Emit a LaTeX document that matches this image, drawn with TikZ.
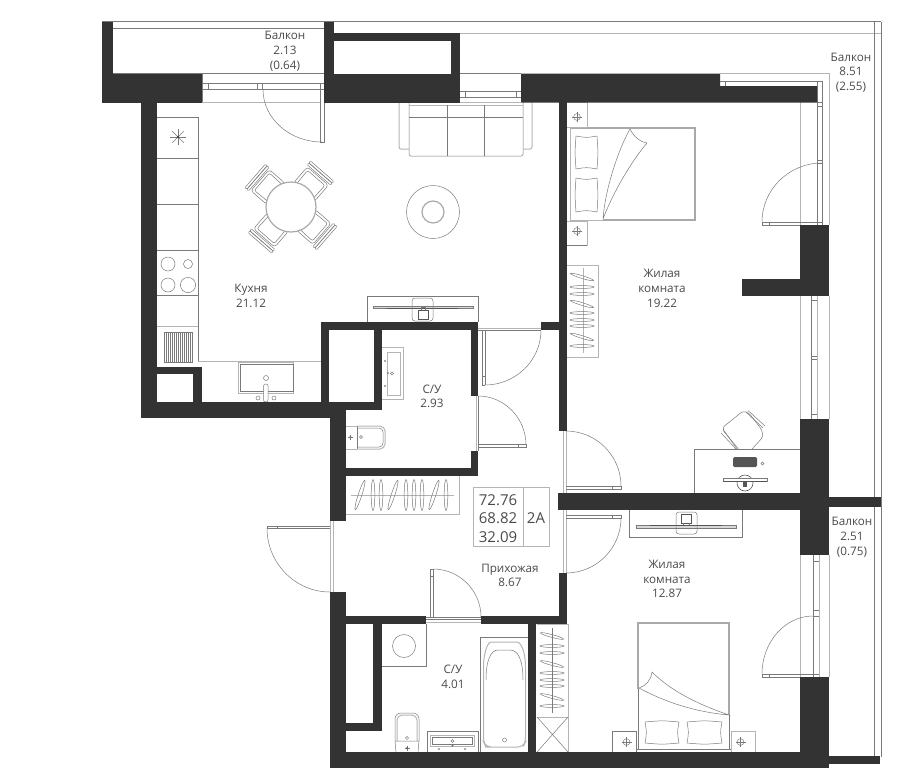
\documentclass[tikz,border=0pt]{standalone}
\usepackage{fontspec}
\setmainfont{Open Sans}
\usetikzlibrary{calc}
\definecolor{wallc}{HTML}{333333}
\definecolor{linec}{HTML}{7A7A7A}
\definecolor{lightc}{HTML}{B4B4B4}
\definecolor{textc}{HTML}{4A4A4A}
\definecolor{darkl}{HTML}{555555}
\tikzset{
  wall/.style={fill=wallc,draw=none},
  ln/.style={draw=linec,line width=0.5pt},
  lt/.style={draw=lightc,line width=1pt},
  hv/.style={draw=linec!65!white,line width=1.2pt},
  lbl/.style={font=\fontsize{11.7}{14}\selectfont,text=textc,inner sep=0pt,text height=8.4pt,text depth=0pt},
  big/.style={font=\fontsize{15}{18}\selectfont,text=textc,inner sep=0pt,text height=10.8pt,text depth=0pt},
}
\newcommand\qarc[3]{\draw[ln] #1 .. controls ($#1!.55!#3$) and ($#2!.55!#3$) .. #2;}
\newcommand\hanger[3]{\draw[ln,rotate around={#3:(#1,#2)}] (#1,#2) ellipse [x radius=12,y radius=1.4];}
\newcommand\hangerb[3]{\draw[ln,rotate around={#3:(#1,#2)}] (#1,#2) ellipse [x radius=15.5,y radius=1.8];}
\newcommand\lamp[2]{\draw[ln] (#1,#2) circle [radius=3.4]; \draw[ln] ({#1-5},#2) -- ({#1+5},#2) ({#1},{#2-5}) -- ({#1},{#2+5});}
\newcommand\pillow[4]{\draw[ln] (#1,#2) .. controls ({(#1+#3)/2},{#2+1.8}) .. (#3,#2) .. controls ({#3+1.2},{(#2+#4)/2}) .. (#3,#4) .. controls ({(#1+#3)/2},{#4-1.8}) .. (#1,#4) .. controls ({#1-1.2},{(#2+#4)/2}) .. cycle;}
\newcommand\pillowb[4]{\draw[ln] (#1,#2) .. controls ({(#1+#3)/2},{#2-1.5}) .. (#3,#2) .. controls ({#3-1.8},{(#2+#4)/2}) .. (#3,#4) .. controls ({(#1+#3)/2},{#4+1.5}) .. (#1,#4) .. controls ({#1+1.8},{(#2+#4)/2}) .. cycle;}
\newcommand\chairat[1]{\begin{scope}[shift={(291,207)},rotate=#1]
  \draw[ln,rounded corners=3] (20,-14) -- (41,-14) -- (41,14) -- (20,14) -- cycle;
  \draw[ln,rounded corners=2] (20,-11) -- (38.5,-11.5) -- (38.5,11.5) -- (20,11);
  \draw[ln,rounded corners=1] (42.5,-15.5) rectangle (45,15.5);
  \draw[ln,rounded corners=1] (45,-15.5) rectangle (47.5,15.5);
\end{scope}}
\begin{document}
\begin{tikzpicture}[x=1pt,y=-1pt]
\useasboundingbox (0,0) rectangle (900,769);
% ---- balcony outlines
\draw[ln] (102,21.7) -- (881,21.7);
\draw[ln] (113,28) -- (324,28);
\draw[ln] (113,73.3) -- (324,73.3);
\draw[lt] (460,33) -- (881,33);
\draw[ln] (874,22) -- (874,757) (881,22) -- (881,757);
% ---- top windows and balcony door
\draw[ln] (202,73) -- (202,102) (202,83) -- (324,83) (202,89.5) -- (324,89.5);
\draw[lt] (202,102) -- (320,102);
\draw[ln] (208,83) -- (208,89.5) (257,83) -- (257,89.5) (262,83) -- (262,89.5) (320,83) -- (320,142) (324,83) -- (324,142) -- (320,142);
\qarc{(263,89.5)}{(322,142)}{(263,142)}
\draw[ln] (460,73) -- (521,73) (460,91) -- (521,91) (460,97) -- (521,97);
\draw[ln] (465,91) -- (465,97) (516,91) -- (516,97);
\draw[lt] (460,102) -- (521,102);
% ---- right windows, bedroom 1
\draw[lt] (720,73) -- (829,73) -- (829,225);
\draw[ln] (720,81) -- (822,81) -- (822,225) (817,81) -- (817,225);
\draw[ln] (725,81) -- (725,86);
\draw[lt] (800,102) -- (800,225);
\draw[ln] (817,102) -- (822,102) (817,106) -- (822,106) (817,160) -- (822,160) (817,163) -- (822,163);
\draw[ln] (762,222) -- (822,222) (762,225) -- (822,225) (762,222) -- (762,225) (769,222) -- (769,225);
\qarc{(822,163)}{(762,222)}{(762,163)}
\draw[lt] (800,296) -- (800,419) (829,296) -- (829,419);
\draw[lt] (817,296) -- (817,419);
\draw[ln] (811,296) -- (811,419);
\draw[ln] (811,300) -- (817,300) (811,356) -- (817,356) (811,359) -- (817,359) (811,414.5) -- (817,414.5);
% ---- right window, bedroom 2
\draw[lt] (800,555) -- (800,677) (829,555) -- (829,677) (819,555) -- (819,677);
\draw[ln] (813,555) -- (813,677);
\draw[ln] (813,561) -- (819,561) (813,610) -- (819,610) (813,616) -- (819,616);
\draw[ln] (762,674) -- (819,674) (762,677) -- (819,677) (762,674) -- (762,677) (769,674) -- (769,677);
\qarc{(813,616)}{(762,674)}{(762,616)}
% ---- kitchen counter
\draw[ln] (157,117) -- (198,117) -- (198,361);
\draw[ln] (157,158) -- (198,158) (157,204) -- (198,204) (157,250) -- (198,250) (157,295) -- (198,295);
\draw[lt] (157,326) -- (198,326) (198,361) -- (321,361);
\foreach \a in {0,45,90,135} {\draw[ln] ({178-8*cos(\a)},{137-8*sin(\a)}) -- ({178+8*cos(\a)},{137+8*sin(\a)});}
\fill[wallc] (178,137) circle [radius=1.2];
\draw[ln] (168,264) circle [radius=7] (188,264) circle [radius=4.5] (168,285) circle [radius=7] (188,285) circle [radius=7.6];
\foreach \x in {164.5,166.5,...,192.5} {\draw[ln] (\x,332) -- (\x,362);}
\foreach \x in {174,176,...,182} {\draw[draw=linec,line width=1pt] (\x,332) -- (\x,362);}
\draw[ln] (164,332) -- (193,332) (164,362) -- (193,362);
% kitchen sink
\draw[lt] (238,362.5) rectangle (293,393);
\draw[ln] (240,364.5) rectangle (293,391);
\draw[ln] (266,378) circle [radius=2.5];
\draw[ln,fill=white,rounded corners=2] (263.5,384) rectangle (268,402);
\draw[ln] (258,398) circle [radius=2] (274,398) circle [radius=2];
% ---- dining table
\chairat{49}\chairat{139}\chairat{229}\chairat{319}
\draw[hv,fill=white] (291,207) circle [radius=25];
% ---- sofa & rug
\draw[lt] (409,105) -- (523,105);
\draw[ln,rounded corners=1.5] (409,102) -- (409,156) -- (523,156) -- (523,102);
\draw[ln] (409,117) -- (523,117);
\draw[ln,rounded corners=1.5] (447,105) -- (447,156) (484,105) -- (484,156);
\draw[lt,rounded corners=2] (399,102) -- (399,149) -- (409,149);
\draw[lt,rounded corners=2] (532,102) -- (532,149) -- (523,149);
\draw[ln] (433,212) circle [radius=26.5];
\draw[hv] (433,212) circle [radius=11];
% ---- TV console kitchen
\draw[ln] (367,322) -- (367,296) -- (478,296) -- (478,322);
\draw[ln,fill=lightc!50!white] (373,306) rectangle (473,308);
\draw[draw=darkl,line width=0.7pt] (387,308.5) -- (458,308.5);
\draw[ln,rounded corners=3] (412,298) rectangle (433,321);
\draw[draw=darkl,line width=0.5pt,fill=white] (418,310) rectangle (428,319);
\draw[ln] (421,310) -- (421,307) -- (425,307) -- (425,310);
% ---- bedroom 1 bed
\draw[hv] (570,128) -- (695,128) -- (695,220) -- (603,220);
\draw[lt] (603,220) -- (570,220);
\draw[lt,line width=.7pt] (570,128) -- (570,220);
\draw[lt] (567,102) -- (587,102) -- (587,127) -- (567,127);
\draw[lt] (567,221) -- (587,221) -- (587,245) -- (567,245);
\draw[ln] (567,245) -- (587,245);
\lamp{577}{117}\lamp{577}{231}
\pillow{576}{136}{597}{169}
\pillow{576}{178}{597}{212}
\draw[ln] (603,219) .. controls (605,190) and (618,150) .. (630,129) .. controls (634,137) and (640,142) .. (647,143) .. controls (630,163) and (612,195) .. (603,219);
% ---- bedroom 1 wardrobe
\draw[lt] (567,265) -- (598,265) -- (598,357) -- (567,357);
\draw[lt] (583,268) -- (583,353);
\hanger{582}{277}{-17}\hanger{582}{287}{0}\hanger{582}{294}{0}\hanger{582}{304}{-17}\hanger{582}{313}{0}\hanger{582}{320}{0}\hanger{582}{326}{0}\hanger{582}{337}{-17}\hanger{582}{346}{0}
% ---- desk bedroom 1
\draw[ln] (694,493) -- (694,449) -- (800,449);
\draw[ln,rounded corners=3] (737,449) -- (725,432) -- (722,428) -- (743,411) -- (749,413) -- (762,430) -- (763,437) -- (752,449);
\draw[ln] (721,433) -- (736,449) (723.5,431) -- (738.5,449);
\draw[ln] (746,412) -- (763,428) (748,410.5) -- (765,426);
\fill[darkl,rounded corners=1.5] (733,457) rectangle (757,467);
\draw[ln] (762.5,463.5) circle [radius=1.5];
\draw[draw=darkl,line width=0.6pt] (745,483) circle [radius=8];
\draw[ln,fill=white] (723,478) rectangle (767,481);
\draw[draw=darkl,line width=0.6pt] (723,481) -- (767,481);
\fill[darkl] (743,481) rectangle (747,487);
% ---- desk bedroom 2
\draw[ln] (629,510) -- (629,537) -- (742,537) -- (742,510);
\draw[ln,fill=lightc!50!white] (636,525.5) rectangle (736,528);
\draw[draw=darkl,line width=0.7pt] (650,525) -- (722,525);
\draw[ln,rounded corners=3] (676,512) rectangle (697,534);
\draw[draw=darkl,line width=0.5pt] (681,514) rectangle (691,523);
\draw[ln] (683,523) -- (683,525) (689,523) -- (689,525);
% ---- bedroom 2 bed
\draw[hv] (638,689) -- (638,623) -- (729,623) -- (729,715);
\draw[ln] (638,689) -- (638,749) (729,715) -- (729,749) (636,749) -- (731,749);
\draw[ln] (612,752) -- (612,731) -- (636,731) -- (636,752);
\draw[lt] (731,752) -- (731,731) -- (755,731) -- (755,752);
\lamp{626.5}{742}\lamp{740.5}{742}
\pillowb{645}{722}{679}{743}
\pillowb{687}{722}{722}{743}
\draw[ln] (639,688) .. controls (646,686) and (651,680) .. (652,672) .. controls (672,692) and (700,705) .. (729,715) .. controls (695,712) and (665,702) .. (639,688);
% ---- bedroom 2 closet
\draw[lt] (537,624) -- (568,624) -- (568,752) (537,717) -- (568,717);
\draw[ln] (552,628) -- (552,713);
\draw[ln] (537,717) -- (568,752) (568,717) -- (537,752);
\hanger{552}{636}{-15}\hanger{552}{646}{0}\hanger{552}{653}{0}\hanger{552}{664}{-15}\hanger{552}{673}{0}\hanger{552}{680}{0}\hanger{552}{686}{0}\hanger{552}{697}{-15}\hanger{552}{706}{0}
% ---- bathroom 1
\draw[lt] (382,347) -- (403,347) -- (403,399) -- (382,399);
\draw[lt] (387,352) rectangle (400,395);
\fill[darkl] (385,361) circle [radius=.9] (385,386) circle [radius=.9] (388,373) circle [radius=.9];
\draw[ln] (392,373.5) circle [radius=1.6];
\draw[lt] (346,426) -- (357,426) (346,449) -- (357,449);
\draw[ln] (357,426) -- (357,449);
\draw[lt,rounded corners=5] (357,426) -- (385,426) -- (385,449) -- (357,449);
\draw[ln,rounded corners=4] (358,428) -- (383,428) -- (383,447) -- (358,447);
\fill[darkl] (350.5,437) circle [radius=1.1];
\draw[ln] (348,437) -- (353,437) (350.5,434.5) -- (350.5,439.5);
\draw[ln] (361,437) circle [radius=1.5];
% ---- hall wardrobe
\draw[lt] (346,514) -- (459,514) -- (459,476);
\draw[lt] (351,495) -- (454,495);
\hangerb{360}{495}{72}\hangerb{373}{495}{90}\hangerb{381}{495}{90}\hangerb{393}{495}{72}\hangerb{406}{495}{90}\hangerb{414}{495}{90}\hangerb{422}{495}{90}\hangerb{434}{495}{72}\hangerb{446}{495}{90}
% ---- info table
\draw[lt] (473,487) rectangle (549,546);
\draw[lt] (523,487) -- (523,546);
% ---- doors
\draw[lt] (476.5,396) -- (476.5,451);
\draw[ln] (478,396) -- (478,451);
\draw[ln] (478,444) rectangle (526,447);
\draw[ln] (518,444) -- (518,447);
\qarc{(478,396)}{(526,445)}{(526,396)}
\draw[lt] (478,328) -- (541,328);
\draw[ln] (478,330) -- (541,330);
\draw[ln] (482,330) -- (482,385) (485,330) -- (485,385) (482,385) -- (485,385);
\draw[ln] (482,376) -- (485,376);
\qarc{(541,330)}{(485,385)}{(541,385)}
\draw[lt] (563,431) -- (563,493) (566.5,431) -- (566.5,493);
\draw[ln] (566,486) -- (621,486) -- (621,489) -- (566,489);
\draw[ln] (612,486) -- (612,489);
\qarc{(566,431)}{(621,486)}{(621,431)}
\draw[lt] (563,510) -- (563,573) (566.5,510) -- (566.5,573);
\draw[ln] (566,515) -- (621,515) -- (621,518) -- (566,518);
\draw[ln] (612,515) -- (612,518);
\qarc{(621,518)}{(566,573)}{(621,573)}
\draw[lt] (330.5,521) -- (330.5,592) (333,521) -- (333,592);
\draw[ln] (330,526) -- (267,526) -- (267,528.5) -- (330,528.5);
\draw[ln] (277,526) -- (277,528.5);
\qarc{(267,528)}{(330,592)}{(267,592)}
\draw[ln] (426,617) -- (481,617) (426,619) -- (481,619);
\draw[lt] (426,622) -- (481,622);
\draw[ln] (430,569) -- (433,569) -- (433,617) (430,569) -- (430,617) (430,576) -- (433,576);
\qarc{(433,569)}{(481,617)}{(481,569)}
% ---- bathroom 2
\draw[ln] (382,666) -- (426,666) -- (426,624);
\draw[ln] (404,646) circle [radius=11.5];
\draw[ln,rounded corners=6] (395,741) -- (395,713) -- (419,713) -- (419,741);
\draw[lt,rounded corners=5] (397,741) -- (397,715) -- (417,715) -- (417,741);
\draw[ln] (395,741) -- (419,741) (395,741) -- (396,752) (419,741) -- (418,752);
\draw[ln] (407,738) circle [radius=1.6];
\draw[ln] (404.5,748) -- (409.5,748) (407,745.5) -- (407,750.5);
\fill[darkl] (407,748) circle [radius=1];
\draw[ln] (427,752) -- (427,731) -- (478,731) -- (478,752);
\draw[lt] (430,735) rectangle (474,746);
\draw[ln] (432,737) rectangle (472,744);
\draw[ln] (452.5,741) circle [radius=1.5];
\fill[darkl] (452.5,745.5) circle [radius=1] (439,749) circle [radius=.9] (465,749) circle [radius=.9];
\draw[ln] (480,752) -- (480,637) -- (528,637);
\draw[lt,rounded corners=5] (490,747) -- (486,747) -- (483.5,742) -- (483.5,672) .. controls (483.5,652) and (488,642) .. (496,642) -- (512,642) .. controls (521,642) and (525.5,652) .. (525.5,672) -- (525.5,742) -- (523,747) -- cycle;
\draw[ln] (486,680) .. controls (486,660) and (491,650) .. (498,650) -- (510,650) .. controls (518,650) and (523,660) .. (523,680);
\draw[ln] (504.5,740) circle [radius=2];
% ---- walls
\fill[wall] (102,22) rectangle (113,74);
\fill[wall] (102,73.5) rectangle (202,102.5);
\fill[wall] (324,22) rectangle (334,74);
\fill[wall] (334,33) rectangle (460,41);
\fill[wall] (451,33) rectangle (460,74);
\fill[wall] (324,74) rectangle (460,102.5);
\fill[wall] (521,73.5) -- (720,73.5) -- (720,86) -- (817,86) -- (817,102.5) -- (521,102.5) -- cycle;
\fill[wall] (800,225) rectangle (829,296);
\fill[wall] (742,279) rectangle (829,296);
\fill[wall] (800,419) rectangle (829,555);
\fill[wall] (558,493) rectangle (800,510);
\fill[wall] (800,497) rectangle (881,507);
\fill[wall] (800,677) rectangle (829,768);
\fill[wall] (330,752) rectangle (829,768);
\fill[wall] (829,756) rectangle (880,764);
% left + kitchen
\fill[wall] (141,102) rectangle (157,418);
\fill[wall] (141,402) rectangle (346,418);
\fill[wall] (157,367) rectangle (202,374);
\fill[wall] (193,367) rectangle (202,402);
\fill[wall] (321,322) rectangle (329,402);
\fill[wall] (321,322) rectangle (478,330);
\fill[wall] (374,330) rectangle (382,410);
\fill[wall] (329,402) rectangle (382,410);
\fill[wall] (471,322) rectangle (478,396);
\fill[wall] (471,451) rectangle (478,476);
\fill[wall] (330,468) rectangle (478,476);
\fill[wall] (330,410) rectangle (346,521);
\fill[wall] (330,592) rectangle (346,752);
\fill[wall] (559,102) rectangle (567,431);
\fill[wall] (541,322) rectangle (567,330);
\fill[wall] (559,573) rectangle (567,624);
\fill[wall] (346,616) rectangle (426,624);
\fill[wall] (481,616) rectangle (567,624);
\fill[wall] (528,624) rectangle (536,752);
\fill[wall] (373,624) rectangle (382,731);
\fill[wall] (346,723) rectangle (382,731);
% ---- labels
\node[lbl] (balc1a) at (285,35.5) {Балкон};
\node[lbl] (balc1b) at (285,50) {2.13};
\node[lbl] (balc1c) at (285,65) {(0.64)};
\node[lbl] (balc2a) at (851,57) {Балкон};
\node[lbl] (balc2b) at (851,71.5) {8.51};
\node[lbl] (balc2c) at (851,86) {(2.55)};
\node[lbl] (balc3a) at (852,521) {Балкон};
\node[lbl] (balc3b) at (852,536) {2.51};
\node[lbl] (balc3c) at (852,551) {(0.75)};
\node[lbl] (kita) at (251,288) {Кухня};
\node[lbl] (kitb) at (251,303) {21.12};
\node[lbl] (wc1a) at (432,389) {С/У};
\node[lbl] (wc1b) at (432,403.5) {2.93};
\node[lbl] (liv1a) at (662,273) {Жилая};
\node[lbl] (liv1b) at (662,288) {комната};
\node[lbl] (liv1c) at (662,303) {19.22};
\node[lbl] (liv2a) at (667,564) {Жилая};
\node[lbl] (liv2b) at (667,579) {комната};
\node[lbl] (liv2c) at (667,593) {12.87};
\node[lbl] (hala) at (510,568) {Прихожая};
\node[lbl] (halb) at (510,582) {8.67};
\node[lbl] (wc2a) at (453,669) {С/У};
\node[lbl] (wc2b) at (453,684) {4.01};
\node[big] (ia) at (498,500) {72.76};
\node[big] (ib) at (498,518) {68.82};
\node[big] (ic) at (498,537) {32.09};
\node[big] (id) at (536,518) {2A};
\end{tikzpicture}
\end{document}
